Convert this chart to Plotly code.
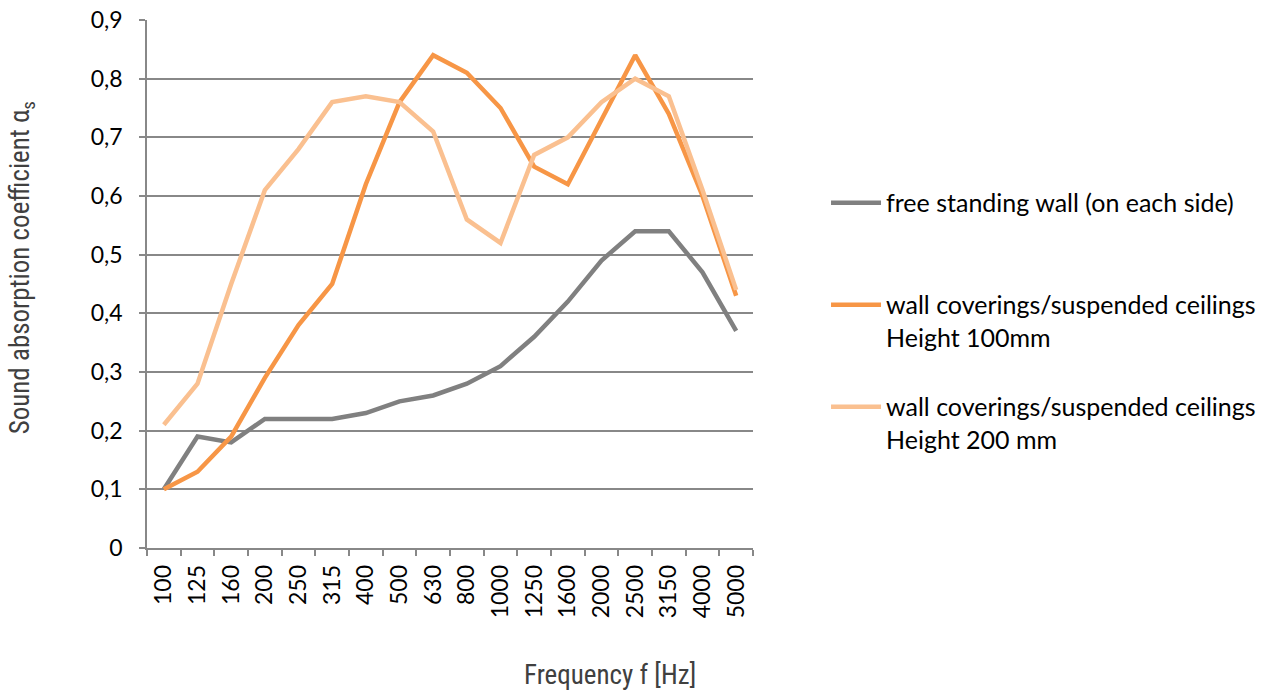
import plotly.graph_objects as go

freqs = ["100", "125", "160", "200", "250", "315", "400", "500", "630", "800",
         "1000", "1250", "1600", "2000", "2500", "3150", "4000", "5000"]
free_wall = [0.10, 0.19, 0.18, 0.22, 0.22, 0.22, 0.23, 0.25, 0.26, 0.28,
             0.31, 0.36, 0.42, 0.49, 0.54, 0.54, 0.47, 0.37]
h100 = [0.10, 0.13, 0.19, 0.29, 0.38, 0.45, 0.62, 0.76, 0.84, 0.81,
        0.75, 0.65, 0.62, 0.73, 0.84, 0.74, 0.60, 0.43]
h200 = [0.21, 0.28, 0.45, 0.61, 0.68, 0.76, 0.77, 0.76, 0.71, 0.56,
        0.52, 0.67, 0.70, 0.76, 0.80, 0.77, 0.61, 0.44]
names = ["free standing wall (on each side)<br>\u00a0",
         "wall coverings/suspended ceilings<br>Height 100mm",
         "wall coverings/suspended ceilings<br>Height 200 mm"]
ytick_vals = [0, 0.1, 0.2, 0.3, 0.4, 0.5, 0.6, 0.7, 0.8, 0.9]
ytick_text = ["0", "0,1", "0,2", "0,3", "0,4", "0,5", "0,6", "0,7", "0,8", "0,9"]
x_title = "Frequency f [Hz]"
y_title = "Sound absorption coefficient α<sub>s</sub>"

colors = ["#808080", "#f79646", "#fac090"]

fig = go.Figure()
for i, (ys, nm) in enumerate(zip([free_wall, h100, h200], names)):
    fig.add_trace(go.Scatter(x=freqs, y=ys, name=nm, mode="lines",
                             legendgroup=f"g{i}",
                             line=dict(color=colors[i], width=4.5)))

title_font = dict(family="Roboto Condensed, Roboto, sans-serif", size=27, color="#404040")
fig.update_layout(
    width=1265, height=694,
    margin=dict(l=147, r=512, t=20, b=146, autoexpand=False),
    plot_bgcolor="white", paper_bgcolor="white",
    font=dict(family="Lato, Open Sans, sans-serif", size=23, color="#000000"),
    showlegend=True,
    legend=dict(x=1.1205, y=0.43, xanchor="left", yanchor="middle",
                tracegroupgap=34, font=dict(size=25), valign="top",
                itemwidth=50, borderwidth=0),
    xaxis=dict(type="category", range=[-0.5, 17.5], tickangle=-90,
               showgrid=False, showline=True, linecolor="#888888", linewidth=1.5,
               ticks="outside", tickson="boundaries", ticklen=6,
               tickcolor="#888888", tickwidth=1.5, ticklabelstandoff=6,
               automargin=False),
    yaxis=dict(range=[0, 0.9], tickvals=ytick_vals, ticktext=ytick_text,
               showgrid=True, gridcolor="#888888", gridwidth=1.5,
               showline=True, linecolor="#888888", linewidth=1.5,
               ticks="outside", ticklen=6, tickcolor="#888888", tickwidth=1.5,
               ticklabelstandoff=12, zeroline=False, automargin=False),
    annotations=[
        dict(text=x_title, xref="paper", yref="paper",
             x=0.764, y=-0.2735, xanchor="center", yanchor="bottom",
             borderpad=0, showarrow=False, font=title_font),
        dict(text=y_title, xref="paper", yref="paper", textangle=-90,
             x=-0.206, y=0.53, xanchor="center", yanchor="middle",
             showarrow=False, font=title_font),
    ],
)
fig.write_html("out.html", post_script="document.body.style.margin='0';",
               config={"displayModeBar": False})
